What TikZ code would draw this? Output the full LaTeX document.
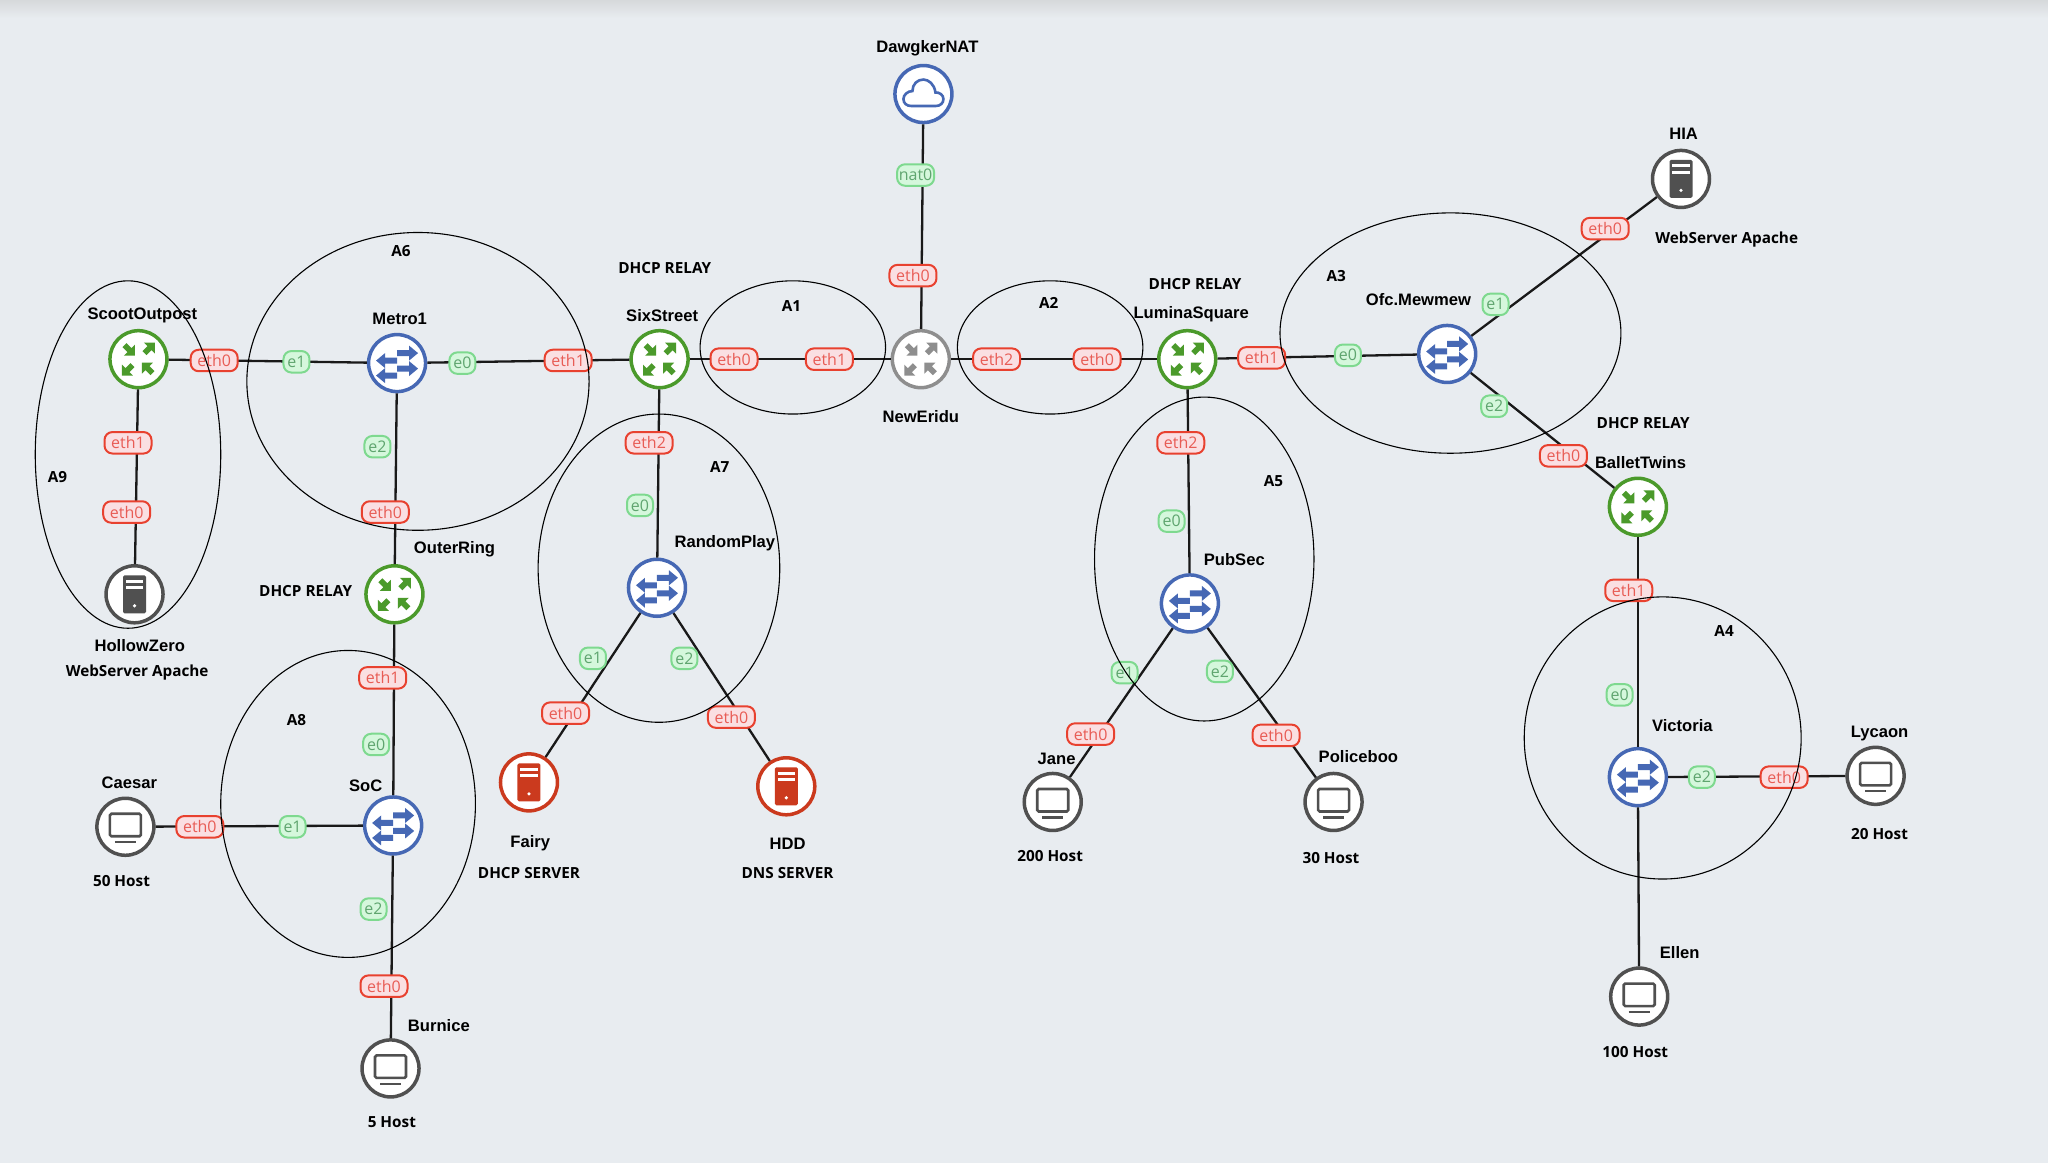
\documentclass[tikz,border=0pt]{standalone}
\usepackage{fontspec}
\setmainfont{Open Sans}
\newfontfamily\namefont{Liberation Sans}
\definecolor{bgcol}{HTML}{E8ECF0}
\definecolor{topcol}{HTML}{D6D9DB}
\definecolor{routergreen}{HTML}{4B9A2B}
\definecolor{switchblue}{HTML}{4668B4}
\definecolor{servergray}{HTML}{505050}
\definecolor{coregray}{HTML}{8E8E8E}
\definecolor{serverred}{HTML}{CB3A1E}
\definecolor{portred}{HTML}{E8412F}
\definecolor{portredfill}{HTML}{FADFE2}
\definecolor{portredtext}{HTML}{E85C55}
\definecolor{portgreen}{HTML}{7ED98F}
\definecolor{portgreenfill}{HTML}{D5F7DC}
\definecolor{portgreentext}{HTML}{5FA56F}
\newcommand\cornerarrow{(12.5,12.5) -- (12.5,1.5) -- (9,5) -- (4,0) -- (0,4) -- (5,9) -- (1.5,12.5) -- cycle}
\newcommand\rowarrow{(0,-3) -- (12,-3) -- (12,-7.5) -- (21,0) -- (12,7.5) -- (12,3) -- (0,3) -- cycle}
\tikzset{
  device/.style={circle,draw=#1,fill=white,line width=3.5pt,minimum size=57pt,inner sep=0pt},
  link/.style={line width=2.3pt,black!90},
  area/.style={line width=1.1pt,black},
  devname/.style={font=\namefont\bfseries\fontsize{16.6}{18}\selectfont,inner sep=0pt,yshift=-0.3pt},
  devnote/.style={font=\bfseries\fontsize{15.3}{17}\selectfont,inner sep=0pt,yshift=-0.3pt},
  porteth/.style={rectangle,rounded corners=8pt,draw=portred,fill=portredfill,text=portredtext,line width=2pt,
    minimum width=47pt,minimum height=21.5pt,inner sep=0pt,font=\fontsize{16}{18}\selectfont},
  portif/.style={rectangle,rounded corners=8pt,draw=portgreen,fill=portgreenfill,text=portgreentext,line width=2pt,
    minimum width=#1,minimum height=21.5pt,inner sep=0pt,font=\fontsize{16}{18}\selectfont},
  portif/.default=26pt,
  routericon/.pic={
    \begin{scope}[x=1pt,y=-1pt]
      \fill[pic actions,shift={(-16,-16)}] \cornerarrow;
      \fill[pic actions,shift={(4,-4)},yscale=-1] \cornerarrow;
      \fill[pic actions,shift={(-4,4)},xscale=-1] \cornerarrow;
      \fill[pic actions,shift={(16,16)},xscale=-1,yscale=-1] \cornerarrow;
    \end{scope}
  },
  switchicon/.pic={
    \begin{scope}[x=1pt,y=-1pt]
      \fill[pic actions,shift={(0,-10)}] \rowarrow;
      \fill[pic actions,shift={(0,-2.5)},xscale=-1] \rowarrow;
      \fill[pic actions,shift={(0,5.5)}] \rowarrow;
      \fill[pic actions,shift={(0,12.5)},xscale=-1] \rowarrow;
    \end{scope}
  },
  servericon/.pic={
    \begin{scope}[x=1pt,y=-1pt]
      \fill[pic actions,rounded corners=1.5pt] (-11.5,-19) rectangle (11.5,19);
      \fill[white] (-8.7,-14.5) rectangle (8.7,-11.5);
      \fill[white] (-8.7,-8.2) rectangle (8.7,-5.2);
      \fill[white] (0,11.5) circle (1.8);
    \end{scope}
  },
  hosticon/.pic={
    \begin{scope}[x=1pt,y=-1pt]
      \draw[servergray,line width=2.6pt,rounded corners=1.5pt] (-15.5,-13) rectangle (15.5,9.5);
      \draw[servergray,line width=2.2pt] (-10.5,15.5) -- (10.5,15.5);
    \end{scope}
  },
  cloudicon/.pic={
    \begin{scope}[x=1pt,y=-1pt]
      \draw[switchblue,line width=2.6pt] (-12,12) -- (12,12) .. controls (17,12) and (20,9) .. (20,5)
        .. controls (20,1) and (16,-2) .. (12,-1.5) .. controls (11,-10) and (5,-14.5) .. (0,-14.5)
        .. controls (-6,-14.5) and (-11,-10) .. (-11,-3) .. controls (-16,-3) and (-20,1) .. (-20,5)
        .. controls (-20,9) and (-17,12) .. (-12,12) -- cycle;
    \end{scope}
  },
}
\begin{document}
\begin{tikzpicture}[x=1.3061pt,y=-1.3061pt]
\useasboundingbox (0,0) rectangle (1568,890.4);
\fill[bgcol] (0,0) rectangle (1568,890.4);
\shade[top color=topcol,bottom color=bgcol] (0,0) rectangle (1568,14);

\node[device=switchblue] (dawgker) at (707,72) {};
\node[device=routergreen] (sixstreet) at (505,275) {};
\node[device=coregray] (neweridu) at (705,275) {};
\node[device=routergreen] (lumina) at (909,275) {};
\node[device=routergreen] (scoot) at (106,275) {};
\node[device=switchblue] (metro) at (304,278) {};
\node[device=routergreen] (outerring) at (302,455) {};
\node[device=servergray] (hollow) at (103,455) {};
\node[device=switchblue] (randomplay) at (503,450) {};
\node[device=serverred] (fairy) at (405,599) {};
\node[device=serverred] (hdd) at (602,602) {};
\node[device=switchblue] (pubsec) at (911,462) {};
\node[device=servergray] (jane) at (806,614) {};
\node[device=servergray] (policeboo) at (1021,614) {};
\node[device=switchblue] (mewmew) at (1108,271) {};
\node[device=servergray] (hia) at (1287,137) {};
\node[device=routergreen] (ballet) at (1254,388) {};
\node[device=switchblue] (victoria) at (1254,595) {};
\node[device=servergray] (lycaon) at (1436,594) {};
\node[device=servergray] (ellen) at (1255,763) {};
\node[device=switchblue] (soc) at (301,632) {};
\node[device=servergray] (caesar) at (96,633) {};
\node[device=servergray] (burnice) at (299,818) {};

\foreach \dev in {sixstreet,lumina,scoot,outerring,ballet}
  \pic[fill=routergreen] at (\dev) {routericon};
\pic[fill=coregray] at (neweridu) {routericon};
\foreach \dev in {metro,randomplay,pubsec,mewmew,victoria,soc}
  \pic[fill=switchblue] at (\dev) {switchicon};
\foreach \dev in {hollow,hia}
  \pic[fill=servergray] at (\dev) {servericon};
\foreach \dev in {fairy,hdd}
  \pic[fill=serverred] at (\dev) {servericon};
\foreach \dev in {jane,policeboo,lycaon,ellen,caesar,burnice}
  \pic at (\dev) {hosticon};
\pic at (dawgker) {cloudicon};

\draw[link] (dawgker) -- (neweridu);
\draw[link] (scoot) -- (metro);
\draw[link] (metro) -- (sixstreet);
\draw[link] (sixstreet) -- (neweridu);
\draw[link] (neweridu) -- (lumina);
\draw[link] (lumina) -- (mewmew);
\draw[link] (mewmew) -- (hia);
\draw[link] (mewmew) -- (ballet);
\draw[link] (scoot) -- (hollow);
\draw[link] (metro) -- (outerring);
\draw[link] (outerring) -- (soc);
\draw[link] (caesar) -- (soc);
\draw[link] (soc) -- (burnice);
\draw[link] (sixstreet) -- (randomplay);
\draw[link] (randomplay) -- (fairy);
\draw[link] (randomplay) -- (hdd);
\draw[link] (lumina) -- (pubsec);
\draw[link] (pubsec) -- (jane);
\draw[link] (pubsec) -- (policeboo);
\draw[link] (ballet) -- (victoria);
\draw[link] (victoria) -- (lycaon);
\draw[link] (victoria) -- (ellen);

\node[portif=37pt] (p1) at (701,134) {nat0};
\node[porteth] (p2) at (699,211) {eth0};
\node[porteth] (p3) at (164,276) {eth0};
\node[portif] (p4) at (227,277) {e1};
\node[portif] (p5) at (354,278) {e0};
\node[porteth] (p6) at (435,276) {eth1};
\node[porteth] (p7) at (562,275) {eth0};
\node[porteth] (p8) at (635,275) {eth1};
\node[porteth] (p9) at (763,275) {eth2};
\node[porteth] (p10) at (840,275) {eth0};
\node[porteth] (p11) at (966,274) {eth1};
\node[portif] (p12) at (1032,272) {e0};
\node[portif] (p13) at (1145,233) {e1};
\node[porteth] (p14) at (1229,175) {eth0};
\node[portif] (p15) at (1144,311) {e2};
\node[porteth] (p16) at (1197,349) {eth0};
\node[porteth] (p17) at (98,339) {eth1};
\node[porteth] (p18) at (97,392) {eth0};
\node[portif] (p19) at (289,342) {e2};
\node[porteth] (p20) at (295,392) {eth0};
\node[porteth] (p21) at (497,339) {eth2};
\node[portif] (p22) at (490,387) {e0};
\node[portif] (p23) at (454,504) {e1};
\node[portif] (p24) at (524,504) {e2};
\node[porteth] (p25) at (433,546) {eth0};
\node[porteth] (p26) at (560,549) {eth0};
\node[porteth] (p27) at (904,339) {eth2};
\node[portif] (p28) at (897,399) {e0};
\node[portif] (p29) at (861,515) {e1};
\node[portif] (p30) at (934,514) {e2};
\node[porteth] (p31) at (835,562) {eth0};
\node[porteth] (p32) at (977,563) {eth0};
\node[porteth] (p33) at (293,519) {eth1};
\node[portif] (p34) at (288,570) {e0};
\node[porteth] (p35) at (153,633) {eth0};
\node[portif] (p36) at (224,633) {e1};
\node[portif] (p37) at (286,696) {e2};
\node[porteth] (p38) at (294,755) {eth0};
\node[porteth] (p39) at (1247,452) {eth1};
\node[portif] (p40) at (1240,532) {e0};
\node[portif] (p41) at (1303,595) {e2};
\node[porteth] (p42) at (1366,595) {eth0};

\draw[area] (98,348) ellipse [x radius=71,y radius=133];
\draw[area] (320,292) ellipse [x radius=131,y radius=114];
\draw[area] (607,266) ellipse [x radius=71,y radius=51];
\draw[area] (804,266) ellipse [x radius=71,y radius=51];
\draw[area] (504.5,435) ellipse [x radius=92.5,y radius=118];
\draw[area] (922,428) ellipse [x radius=84,y radius=124];
\draw[area] (1110.5,255) ellipse [x radius=130.5,y radius=92];
\draw[area] (1273,565) ellipse [x radius=106,y radius=108];
\draw[area] (266.5,615.5) ellipse [x radius=97.5,y radius=117.5];

\node[devname] (n1) at (710,37) {DawgkerNAT};
\node[devname] (n2) at (1289,102) {HIA};
\node[devname] (n3) at (507,241) {SixStreet};
\node[devname] (n4) at (912,240) {LuminaSquare};
\node[devname] (n5) at (109,241) {ScootOutpost};
\node[devname] (n6) at (306,244) {Metro1};
\node[devname] (n7) at (348,420) {OuterRing};
\node[devname] (n8) at (107,494) {HollowZero};
\node[devname] (n9) at (555,416) {RandomPlay};
\node[devname] (n10) at (705,319) {NewEridu};
\node[devname] (n11) at (1086,229) {Ofc.Mewmew};
\node[devname] (n12) at (1256,354) {BalletTwins};
\node[devname] (n13) at (945,428) {PubSec};
\node[devname] (n14) at (406,645) {Fairy};
\node[devname] (n15) at (603,646) {HDD};
\node[devname] (n16) at (809,581) {Jane};
\node[devname] (n17) at (1040,579) {Policeboo};
\node[devname] (n18) at (1288,555) {Victoria};
\node[devname] (n19) at (1439,561) {Lycaon};
\node[devname] (n20) at (1286,729) {Ellen};
\node[devname] (n21) at (280,601) {SoC};
\node[devname] (n22) at (99,599) {Caesar};
\node[devname] (n23) at (336,785) {Burnice};

\node[devnote] (a1) at (606,234) {A1};
\node[devnote] (a2) at (803,232) {A2};
\node[devnote] (a3) at (1023,211) {A3};
\node[devnote] (a4) at (1320,483) {A4};
\node[devnote] (a5) at (975,368) {A5};
\node[devnote] (a6) at (307,192) {A6};
\node[devnote] (a7) at (551,357) {A7};
\node[devnote] (a8) at (227,551) {A8};
\node[devnote] (a9) at (44,365) {A9};

\node[devnote] (t1) at (509,205) {DHCP RELAY};
\node[devnote] (t2) at (915,217) {DHCP RELAY};
\node[devnote] (t3) at (1258,324) {DHCP RELAY};
\node[devnote] (t4) at (234,452) {DHCP RELAY};
\node[devnote] (t5) at (1322,183) {WebServer Apache};
\node[devnote] (t6) at (105,515) {WebServer Apache};
\node[devnote] (t7) at (405,668) {DHCP SERVER};
\node[devnote] (t8) at (603,668) {DNS SERVER};
\node[devnote] (t9) at (804,655) {200 Host};
\node[devnote] (t10) at (1019,657) {30 Host};
\node[devnote] (t11) at (1439,638) {20 Host};
\node[devnote] (t12) at (1252,805) {100 Host};
\node[devnote] (t13) at (93,674) {50 Host};
\node[devnote] (t14) at (300,859) {5 Host};
\end{tikzpicture}
\end{document}
